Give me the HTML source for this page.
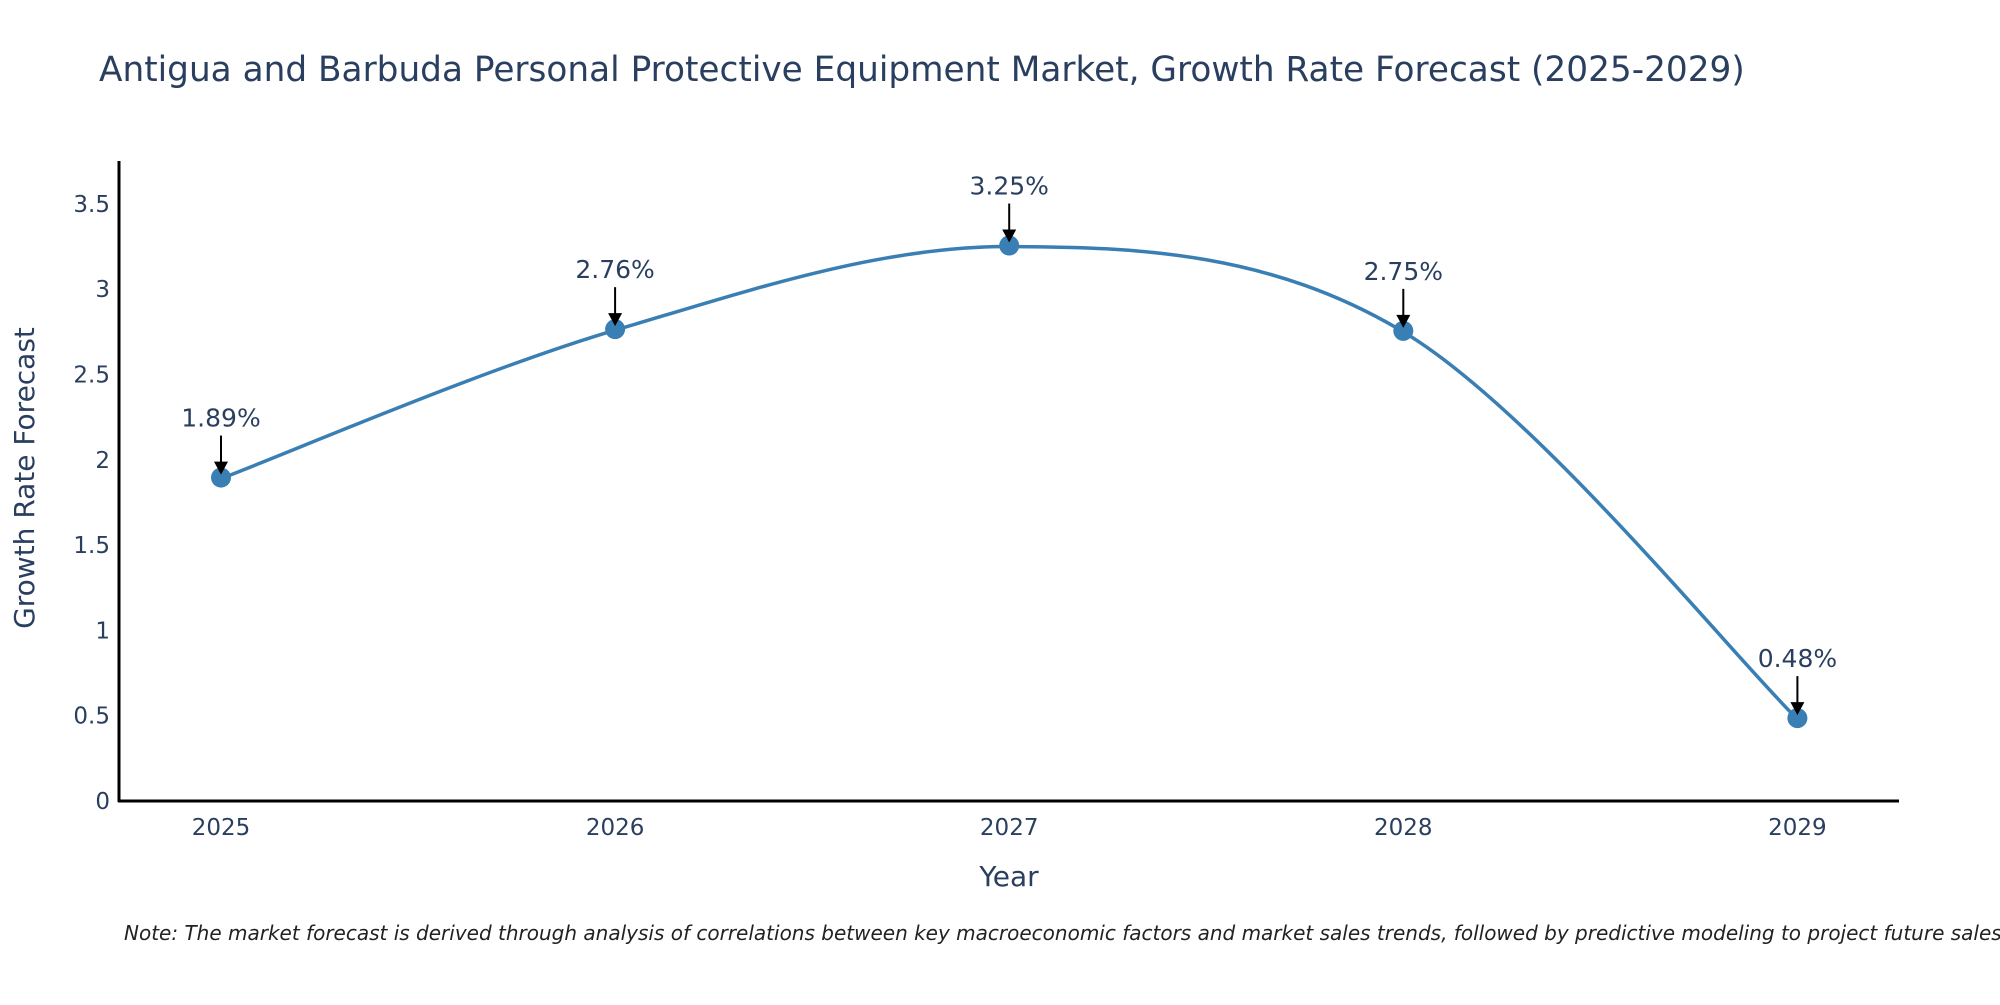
<!DOCTYPE html>
<html><head><meta charset="utf-8"><style>
body{margin:0;background:#fff;}
svg text{font-family:"DejaVu Sans","Liberation Sans",sans-serif;fill:#2a3f5f;}
</style></head><body>
<svg id="chart" width="2000" height="1000" viewBox="0 0 2000 1000" xmlns="http://www.w3.org/2000/svg">
<text x="99" y="81" font-size="34.3">Antigua and Barbuda Personal Protective Equipment Market, Growth Rate Forecast (2025-2029)</text>
<g id="yticks"></g>
<g id="xticks"></g>
<line x1="119" y1="161" x2="119" y2="802" stroke="#000" stroke-width="3"/>
<line x1="118" y1="801" x2="1899" y2="801" stroke="#000" stroke-width="3"/>
<text transform="translate(34,478) rotate(-90)" text-anchor="middle" font-size="28">Growth Rate Forecast</text>
<text x="1009" y="886" text-anchor="middle" font-size="28">Year</text>
<path id="line" fill="none" stroke="#3a7fb4" stroke-width="3.5"/>
<g id="marks"></g>
<text x="124" y="940" font-size="20" font-style="italic" style="fill:#222">Note: The market forecast is derived through analysis of correlations between key macroeconomic factors and market sales trends, followed by predictive modeling to project future sales.</text>
</svg>
<script>
const years = ["2025","2026","2027","2028","2029"];
const values = [1.89, 2.76, 3.25, 2.75, 0.48];
const labels = ["1.89%","2.76%","3.25%","2.75%","0.48%"];
const yTicks = [0,0.5,1,1.5,2,2.5,3,3.5];
const yTickLabels = ["0","0.5","1","1.5","2","2.5","3","3.5"];
const NS="http://www.w3.org/2000/svg";
function xs(i){return 221+i*394.1;}
function ys(v){return 801-v*170.6;}
function mk(tag,attrs,parent){const e=document.createElementNS(NS,tag);for(const k in attrs)e.setAttribute(k,attrs[k]);parent.appendChild(e);return e;}
const yt=document.getElementById('yticks');
yTicks.forEach((v,i)=>{const t=mk('text',{x:110,y:ys(v)+8,'text-anchor':'end','font-size':'23'},yt);


t.textContent=yTickLabels[i];});
const xt=document.getElementById('xticks');
years.forEach((y,i)=>{const t=mk('text',{x:xs(i),y:835,'text-anchor':'middle','font-size':'23'},xt);


t.textContent=y;});
const P=values.map((v,i)=>[xs(i),ys(v)]);
let d='M'+P[0][0]+','+P[0][1];
const s=1/6;
for(let i=0;i<P.length-1;i++){const p0=P[Math.max(0,i-1)],p1=P[i],p2=P[i+1],p3=P[Math.min(P.length-1,i+2)];
d+=' C'+(p1[0]+(p2[0]-p0[0])*s)+','+(p1[1]+(p2[1]-p0[1])*s)+' '+(p2[0]-(p3[0]-p1[0])*s)+','+(p2[1]-(p3[1]-p1[1])*s)+' '+p2[0]+','+p2[1];}
document.getElementById('line').setAttribute('d',d);
const g=document.getElementById('marks');
P.forEach((p,i)=>{
const c=mk('circle',{cx:p[0],cy:p[1]-1,r:10,fill:'#3a7fb4'},g);


const l=mk('line',{x1:p[0],y1:p[1]-43,x2:p[0],y2:p[1]-14,stroke:'#000','stroke-width':2},g);


const h=mk('polygon',{points:(p[0]-7)+','+(p[1]-17)+' '+(p[0]+7)+','+(p[1]-17)+' '+p[0]+','+(p[1]-4),fill:'#000'},g);


const t=mk('text',{x:p[0],y:p[1]-52,'text-anchor':'middle','font-size':'25'},g);


t.textContent=labels[i];});
</script>
</body></html>
